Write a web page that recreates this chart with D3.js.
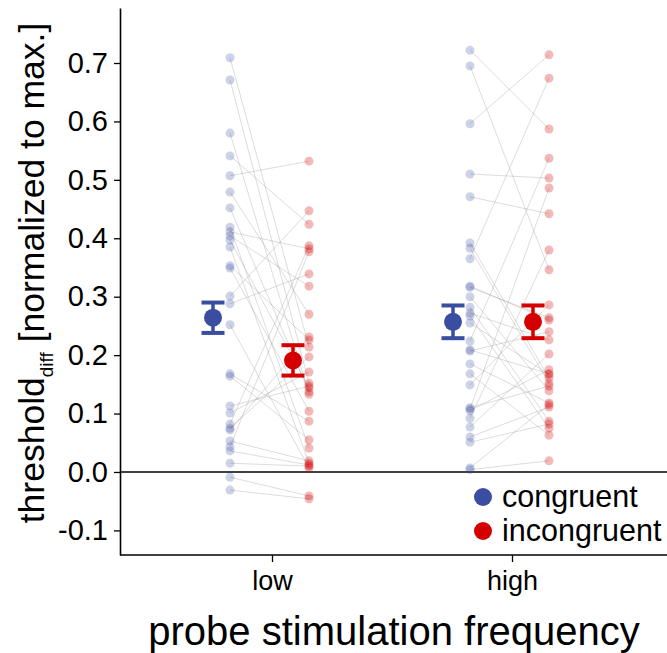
<!DOCTYPE html>
<html>
<head>
<meta charset="utf-8">
<script src="https://cdn.jsdelivr.net/npm/d3@7"></script>
<style>
  html, body { margin: 0; padding: 0; background: #fff; }
  svg { display: block; font-family: Arial, "Liberation Sans", sans-serif; }
</style>
</head>
<body>
<svg id="chart" width="667" height="653"></svg>
<script>
// ---------------- data ----------------
const categories = ["low", "high"];
const conditions = ["congruent", "incongruent"];
const yTickValues = [-0.1, 0.0, 0.1, 0.2, 0.3, 0.4, 0.5, 0.6, 0.7];
const yTickLabels = ["-0.1", "0.0", "0.1", "0.2", "0.3", "0.4", "0.5", "0.6", "0.7"];

// per-subject values (paired by index)
const lowCongruent = [0.709, 0.671, 0.580, 0.541, 0.507, 0.479, 0.452, 0.419, 0.411, 0.404,
  0.397, 0.385, 0.353, 0.349, 0.301, 0.288, 0.252, 0.168, 0.164, 0.113,
  0.101, 0.082, 0.075, 0.072, 0.053, 0.043, 0.036, 0.015, -0.009, -0.031];
const lowIncongruent = [0.214, 0.152, 0.133, 0.424, 0.532, 0.270, 0.137, 0.041, 0.382, 0.318,
  0.144, 0.015, 0.226, 0.104, 0.447, 0.339, 0.007, 0.087, 0.055, 0.147,
  0.171, 0.387, 0.197, 0.231, 0.019, 0.377, 0.012, 0.010, -0.041, -0.046];
const highCongruent = [0.722, 0.695, 0.596, 0.510, 0.471, 0.392, 0.383, 0.365, 0.318, 0.316,
  0.300, 0.282, 0.272, 0.267, 0.255, 0.224, 0.209, 0.207, 0.185, 0.168,
  0.149, 0.110, 0.108, 0.105, 0.092, 0.077, 0.060, 0.051, 0.007, 0.004];
const highIncongruent = [0.587, 0.346, 0.714, 0.503, 0.442, 0.161, 0.152, 0.674, 0.260, 0.264,
  0.139, 0.087, 0.226, 0.075, 0.167, 0.537, 0.168, 0.240, 0.118, 0.063,
  0.286, 0.147, 0.486, 0.175, 0.380, 0.202, 0.111, 0.082, 0.115, 0.019];

// group means and error bar extents (low, high)
const meanCongruent = [0.264, 0.257];
const meanIncongruent = [0.191, 0.257];
const errCongruent = [0.026, 0.028];
const errIncongruent = [0.026, 0.028];

const xTitle = "probe stimulation frequency";

// ---------------- layout ----------------
const colors = { congruent: "#3A4DA0", incongruent: "#D40000" };
const FONT = "Arial, 'Liberation Sans', sans-serif";
const svg = d3.select("#chart");

const y = d3.scaleLinear().domain([-0.1, 0.7]).range([530.4, 63]);
const yTop = 8, yBottom = 555, xLeft = 120, xRight = 667;
const x = d3.scalePoint().domain(categories).range([272, 512]);
const ptOffset = { congruent: -42, incongruent: 37 };
const meanOffset = { congruent: -59, incongruent: 21 };

const groups = [
  { cat: "low", c: lowCongruent, i: lowIncongruent },
  { cat: "high", c: highCongruent, i: highIncongruent }
];

// zero line
svg.append("line")
  .attr("x1", xLeft).attr("x2", xRight)
  .attr("y1", y(0)).attr("y2", y(0))
  .attr("stroke", "#000").attr("stroke-width", 1.6);

// subject lines
groups.forEach(g => {
  const pairs = d3.zip(g.c, g.i);
  svg.append("g").selectAll("line").data(pairs).join("line")
    .attr("x1", x(g.cat) + ptOffset.congruent)
    .attr("x2", x(g.cat) + ptOffset.incongruent)
    .attr("y1", d => y(d[0]))
    .attr("y2", d => y(d[1]))
    .attr("stroke", "#8c8c8c")
    .attr("stroke-opacity", 0.3)
    .attr("stroke-width", 1);
});

// subject points
groups.forEach(g => {
  svg.append("g").selectAll("circle").data(g.c).join("circle")
    .attr("cx", x(g.cat) + ptOffset.congruent)
    .attr("cy", d => y(d))
    .attr("r", 4.5)
    .attr("fill", colors.congruent)
    .attr("fill-opacity", 0.25);
  svg.append("g").selectAll("circle").data(g.i).join("circle")
    .attr("cx", x(g.cat) + ptOffset.incongruent)
    .attr("cy", d => y(d))
    .attr("r", 4.5)
    .attr("fill", colors.incongruent)
    .attr("fill-opacity", 0.28);
});

// means with error bars
function drawMean(cat, cond, m, e) {
  const cx = x(cat) + meanOffset[cond];
  const col = colors[cond];
  const g = svg.append("g");
  const capHalf = 11.5;
  g.append("line").attr("x1", cx).attr("x2", cx)
    .attr("y1", y(m + e)).attr("y2", y(m - e))
    .attr("stroke", col).attr("stroke-width", 3.5);
  [m + e, m - e].forEach(v => {
    g.append("line").attr("x1", cx - capHalf).attr("x2", cx + capHalf)
      .attr("y1", y(v)).attr("y2", y(v))
      .attr("stroke", col).attr("stroke-width", 4);
  });
  g.append("circle").attr("cx", cx).attr("cy", y(m)).attr("r", 9).attr("fill", col);
}
categories.forEach((cat, k) => {
  drawMean(cat, "congruent", meanCongruent[k], errCongruent[k]);
  drawMean(cat, "incongruent", meanIncongruent[k], errIncongruent[k]);
});

// y axis
const yAxisScale = y.copy().domain([y.invert(yBottom), y.invert(yTop)]).range([yBottom, yTop]);
const yAxis = d3.axisLeft(yAxisScale)
  .tickValues(yTickValues)
  .tickFormat((d, i) => yTickLabels[i])
  .tickSizeInner(6).tickSizeOuter(0).tickPadding(6);
const gy = svg.append("g").attr("transform", `translate(${xLeft},0)`).call(yAxis);
gy.select(".domain").attr("stroke", "#000").attr("stroke-width", 1.6);
gy.selectAll(".tick line").attr("stroke", "#000").attr("stroke-width", 1.3);
gy.selectAll(".tick text").attr("font-size", 29).attr("fill", "#000")
  .style("font-family", FONT);

// x axis
const xAxisScale = d3.scalePoint().domain(categories).range([272, 512]);
const xAxis = d3.axisBottom(xAxisScale).tickSizeInner(7).tickSizeOuter(0).tickPadding(9);
const gx = svg.append("g").attr("transform", `translate(0,${yBottom})`).call(xAxis);
gx.select(".domain").attr("d", `M${xLeft},0H${xRight}`).attr("stroke", "#000").attr("stroke-width", 1.6);
gx.selectAll(".tick line").attr("stroke", "#000").attr("stroke-width", 1.3);
gx.selectAll(".tick text").attr("font-size", 27).attr("fill", "#000")
  .style("font-family", FONT);

// axis titles
svg.append("text")
  .attr("x", 394).attr("y", 645)
  .attr("text-anchor", "middle")
  .attr("font-size", 40)
  .text(xTitle);

const yt = svg.append("text")
  .attr("transform", "translate(44,273) rotate(-90)")
  .attr("text-anchor", "middle")
  .attr("font-size", 35.5);
yt.append("tspan").text("threshold");
yt.append("tspan").attr("font-size", 19).attr("dy", 9).text("diff");
yt.append("tspan").attr("dy", -9).text(" [normalized to max.]");

// legend
const legend = svg.append("g");
conditions.forEach((cond, k) => {
  const ly = 497 + k * 34;
  legend.append("circle").attr("cx", 483).attr("cy", ly).attr("r", 9).attr("fill", colors[cond]);
  legend.append("text").attr("x", 502).attr("y", ly + 10)
    .attr("font-size", 30.5).text(cond);
});
</script>
</body>
</html>
